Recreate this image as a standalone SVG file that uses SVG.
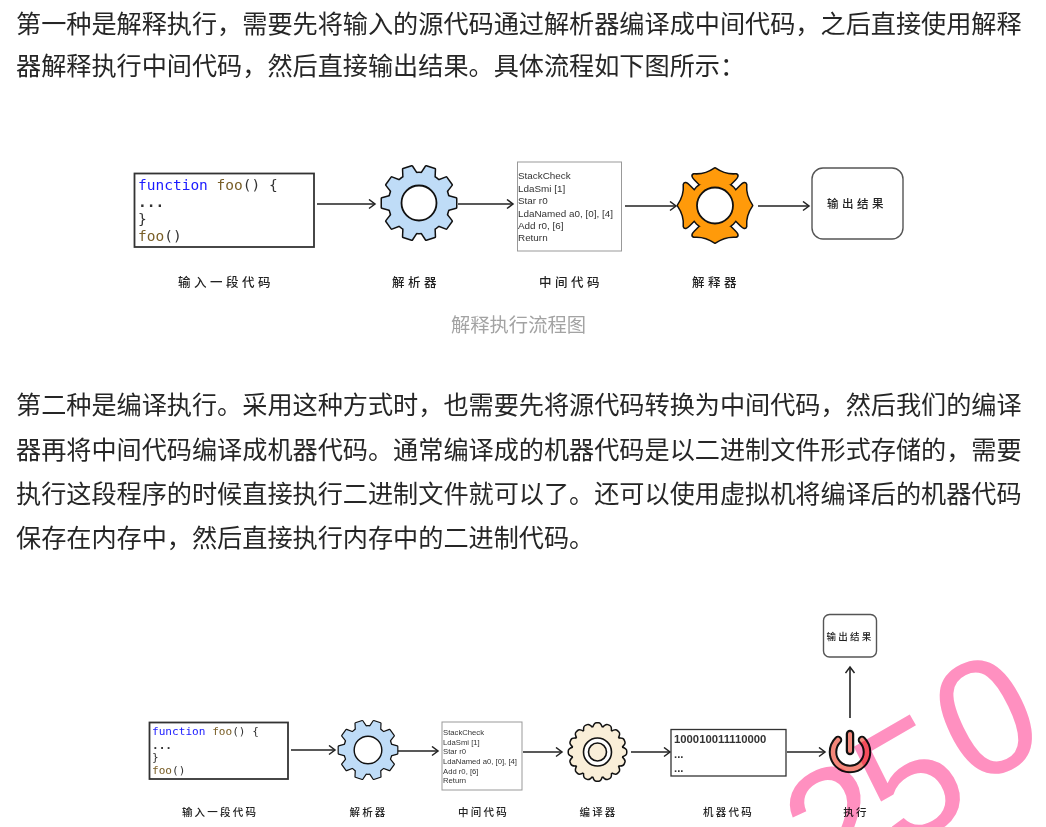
<svg xmlns="http://www.w3.org/2000/svg" xmlns:xlink="http://www.w3.org/1999/xlink" width="1046" height="827" viewBox="0 0 1046 827">
<style>
.p{font-family:"Noto Sans CJK SC","Liberation Sans",sans-serif;font-size:25.15px;fill:#262626}
.cap{font-family:"Noto Sans CJK SC",sans-serif;font-size:19.3px;fill:#a3a3a3;text-anchor:middle}
.lb{font-family:"Noto Sans CJK SC",sans-serif;font-size:12.5px;fill:#222;font-weight:500;text-anchor:middle;letter-spacing:3.5px}
.lbs{font-family:"Noto Sans CJK SC",sans-serif;font-size:10.5px;fill:#222;font-weight:500;text-anchor:middle;letter-spacing:2.2px}
.code{font-family:"DejaVu Sans Mono",monospace;font-size:14.5px;fill:#333}
.codes{font-family:"DejaVu Sans Mono",monospace;font-size:11.1px;fill:#333}
.kw{fill:#1a1aff}.fn{fill:#795e26}
.ir{font-family:"Liberation Sans",sans-serif;font-size:9.9px;fill:#333}
.irs{font-family:"Liberation Sans",sans-serif;font-size:7.7px;fill:#333}
.box{fill:#fff;stroke:#333;stroke-width:1.8}
.irbox{fill:#fff;stroke:#999;stroke-width:1}
.out{fill:#fff;stroke:#555;stroke-width:1.4}
.ln{fill:none;stroke:#222;stroke-width:1.6;marker-end:url(#ah)}
.ol{fill:#111;stroke:#111;stroke-width:3;stroke-linejoin:round}
.hole{fill:#fff;stroke:#111;stroke-width:1.8}
.wm{font-family:"Liberation Sans",sans-serif;font-size:165px;fill:#ff90c0;mix-blend-mode:multiply;text-anchor:middle}
</style>
<defs>
<marker id="ah" markerWidth="12" markerHeight="12" refX="8" refY="5" orient="auto" markerUnits="userSpaceOnUse"><path d="M2,0.5 L8,5 L2,9.5" fill="none" stroke="#222" stroke-width="1.5"/></marker>
<path id="t" d="M-7,-28 L-4.500,-37 L4.500,-37 L7,-28Z"/>
<g id="gear">
<circle r="30"/>
<use xlink:href="#t" transform="rotate(18)"/><use xlink:href="#t" transform="rotate(54)"/><use xlink:href="#t" transform="rotate(90)"/><use xlink:href="#t" transform="rotate(126)"/><use xlink:href="#t" transform="rotate(162)"/><use xlink:href="#t" transform="rotate(198)"/><use xlink:href="#t" transform="rotate(234)"/><use xlink:href="#t" transform="rotate(270)"/><use xlink:href="#t" transform="rotate(306)"/><use xlink:href="#t" transform="rotate(342)"/>
</g>
<path id="lobe" d="M-15,-21 L-20,-26 Q-24,-30 -21,-31 Q-10,-30 0,-37 Q10,-30 21,-31 Q24,-30 20,-26 L15,-21Z"/>
<g id="flower">
<circle r="25.500"/>
<use xlink:href="#lobe"/><use xlink:href="#lobe" transform="rotate(90)"/><use xlink:href="#lobe" transform="rotate(180)"/><use xlink:href="#lobe" transform="rotate(270)"/>
</g>
<path id="ct" d="M-4.200,-24 Q-3,-28.500 -1,-28.500 L1,-28.500 Q3,-28.500 4.200,-24Z"/>
<g id="cog">
<circle r="25"/>
<use xlink:href="#ct"/><use xlink:href="#ct" transform="rotate(22.500)"/><use xlink:href="#ct" transform="rotate(45)"/><use xlink:href="#ct" transform="rotate(67.500)"/><use xlink:href="#ct" transform="rotate(90)"/><use xlink:href="#ct" transform="rotate(112.500)"/><use xlink:href="#ct" transform="rotate(135)"/><use xlink:href="#ct" transform="rotate(157.500)"/><use xlink:href="#ct" transform="rotate(180)"/><use xlink:href="#ct" transform="rotate(202.500)"/><use xlink:href="#ct" transform="rotate(225)"/><use xlink:href="#ct" transform="rotate(247.500)"/><use xlink:href="#ct" transform="rotate(270)"/><use xlink:href="#ct" transform="rotate(292.500)"/><use xlink:href="#ct" transform="rotate(315)"/><use xlink:href="#ct" transform="rotate(337.500)"/>
</g>
</defs>
<rect width="1046" height="827" fill="#fff"/>
<g id="para1">
<text class="p" x="16" y="33">第一种是解释执行，需要先将输入的源代码通过解析器编译成中间代码，之后直接使用解释</text>
<text class="p" x="16" y="75">器解释执行中间代码，然后直接输出结果。具体流程如下图所示：</text>
</g>
<g id="connectors-top">
<path class="ln" d="M317,204 H375"/>
<path class="ln" d="M458,204 H513"/>
<path class="ln" d="M625,206 H676"/>
<path class="ln" d="M758,206 H809"/>
</g>
<g id="n-code1">
<rect class="box" x="134.500" y="173.500" width="179.500" height="73.500"/>
<text class="code" x="138" y="190"><tspan class="kw">function</tspan> <tspan class="fn">foo</tspan>() {</text>
<text class="code" x="138" y="207" font-weight="bold">...</text>
<text class="code" x="138" y="224">}</text>
<text class="code" x="138" y="241"><tspan class="fn">foo</tspan>()</text>
</g>
<g id="n-gear1" transform="translate(419,203)">
<use xlink:href="#gear" class="ol"/>
<use xlink:href="#gear" fill="#bfdcf7"/>
<circle class="hole" r="17.500"/>
</g>
<g id="n-ir1">
<rect class="irbox" x="517.500" y="162" width="104" height="89"/>
<text class="ir" x="518" y="179">StackCheck</text>
<text class="ir" x="518" y="191.500">LdaSmi [1]</text>
<text class="ir" x="518" y="204">Star r0</text>
<text class="ir" x="518" y="216.500">LdaNamed a0, [0], [4]</text>
<text class="ir" x="518" y="229">Add r0, [6]</text>
<text class="ir" x="518" y="241">Return</text>
</g>
<g id="n-flower" transform="translate(715,205.500)">
<use xlink:href="#flower" class="ol"/>
<use xlink:href="#flower" fill="#ff9a0a"/>
<circle class="hole" r="18"/>
</g>
<g id="n-out1">
<rect class="out" x="812" y="168" width="91" height="71" rx="11"/>
<text x="857" y="208" font-family="Noto Sans CJK SC, sans-serif" font-size="11.500" font-weight="500" fill="#222" text-anchor="middle" letter-spacing="3.500">输出结果</text>
</g>
<g id="labels-top">
<text class="lb" x="226" y="287">输入一段代码</text>
<text class="lb" x="416" y="287">解析器</text>
<text class="lb" x="571" y="287">中间代码</text>
<text class="lb" x="716" y="287">解释器</text>
<text class="cap" x="518.500" y="332">解释执行流程图</text>
</g>
<g id="para2">
<text class="p" x="16" y="414">第二种是编译执行。采用这种方式时，也需要先将源代码转换为中间代码，然后我们的编译</text>
<text class="p" x="16" y="459">器再将中间代码编译成机器代码。通常编译成的机器代码是以二进制文件形式存储的，需要</text>
<text class="p" x="16" y="503">执行这段程序的时候直接执行二进制文件就可以了。还可以使用虚拟机将编译后的机器代码</text>
<text class="p" x="16" y="547">保存在内存中，然后直接执行内存中的二进制代码。</text>
</g>
<g id="connectors-bottom">
<path class="ln" d="M291,750 H335"/>
<path class="ln" d="M397,751 H438"/>
<path class="ln" d="M523,752 H562"/>
<path class="ln" d="M631,752 H670"/>
<path class="ln" d="M787,752 H825"/>
<path class="ln" d="M850,718 V667"/>
</g>
<g id="n-code2">
<rect class="box" x="149.500" y="722.500" width="138.500" height="56.500"/>
<text class="codes" x="152" y="735"><tspan class="kw">function</tspan> <tspan class="fn">foo</tspan>() {</text>
<text class="codes" x="152" y="749" font-weight="bold">...</text>
<text class="codes" x="152" y="761">}</text>
<text class="codes" x="152" y="774"><tspan class="fn">foo</tspan>()</text>
</g>
<g id="n-gear2" transform="translate(368,750) scale(.79)">
<use xlink:href="#gear" class="ol"/>
<use xlink:href="#gear" fill="#bfdcf7"/>
<circle class="hole" r="17.500"/>
</g>
<g id="n-ir2">
<rect class="irbox" x="442" y="722" width="80" height="68"/>
<text class="irs" x="443" y="735">StackCheck</text>
<text class="irs" x="443" y="744.500">LdaSmi [1]</text>
<text class="irs" x="443" y="754">Star r0</text>
<text class="irs" x="443" y="764">LdaNamed a0, [0], [4]</text>
<text class="irs" x="443" y="773.500">Add r0, [6]</text>
<text class="irs" x="443" y="783">Return</text>
</g>
<g id="n-cog" transform="translate(597.500,752)">
<use xlink:href="#cog" class="ol"/>
<use xlink:href="#cog" fill="#f9eed8"/>
<circle r="14" fill="#fff" stroke="#111" stroke-width="1.600"/>
<circle r="9" fill="#f9eed8" stroke="#111" stroke-width="1.600"/>
</g>
<g id="n-bin">
<rect class="box" x="671" y="729.500" width="115" height="46.500" style="stroke-width:1.300"/>
<text x="674" y="743" font-family="Liberation Sans, sans-serif" font-size="11.300" font-weight="bold" fill="#333">100010011110000</text>
<text x="674" y="758" font-family="Liberation Sans, sans-serif" font-size="11.300" font-weight="bold" fill="#333">...</text>
<text x="674" y="772" font-family="Liberation Sans, sans-serif" font-size="11.300" font-weight="bold" fill="#333">...</text>
</g>
<g id="n-power">
<path d="M838,740 A17,17 0 1 0 862,740" fill="none" stroke="#111" stroke-width="8.500" stroke-linecap="round"/>
<path d="M850,734 V751" fill="none" stroke="#111" stroke-width="8.500" stroke-linecap="round"/>
<path d="M838,740 A17,17 0 1 0 862,740" fill="none" stroke="#f4877a" stroke-width="4.500" stroke-linecap="round"/>
<path d="M850,734 V751" fill="none" stroke="#f4877a" stroke-width="4" stroke-linecap="round"/>
</g>
<g id="n-out2">
<rect class="out" x="823.500" y="614.500" width="53" height="42.500" rx="6"/>
<text x="850" y="640" font-family="Noto Sans CJK SC, sans-serif" font-size="9.500" font-weight="500" fill="#222" text-anchor="middle" letter-spacing="2.200">输出结果</text>
</g>
<g id="labels-bottom">
<text class="lbs" x="220" y="816">输入一段代码</text>
<text class="lbs" x="368.500" y="816">解析器</text>
<text class="lbs" x="483.500" y="816">中间代码</text>
<text class="lbs" x="598.500" y="816">编译器</text>
<text class="lbs" x="728.500" y="816">机器代码</text>
<text class="lbs" x="856" y="816">执行</text>
</g>
<g id="watermark">
<text class="wm" transform="translate(985,715) rotate(-26)" y="59">0</text>
<text class="wm" transform="translate(909,778) rotate(-30)" y="59">5</text>
<text class="wm" transform="translate(838,822) rotate(-30)" y="59">2</text>
</g>
</svg>
